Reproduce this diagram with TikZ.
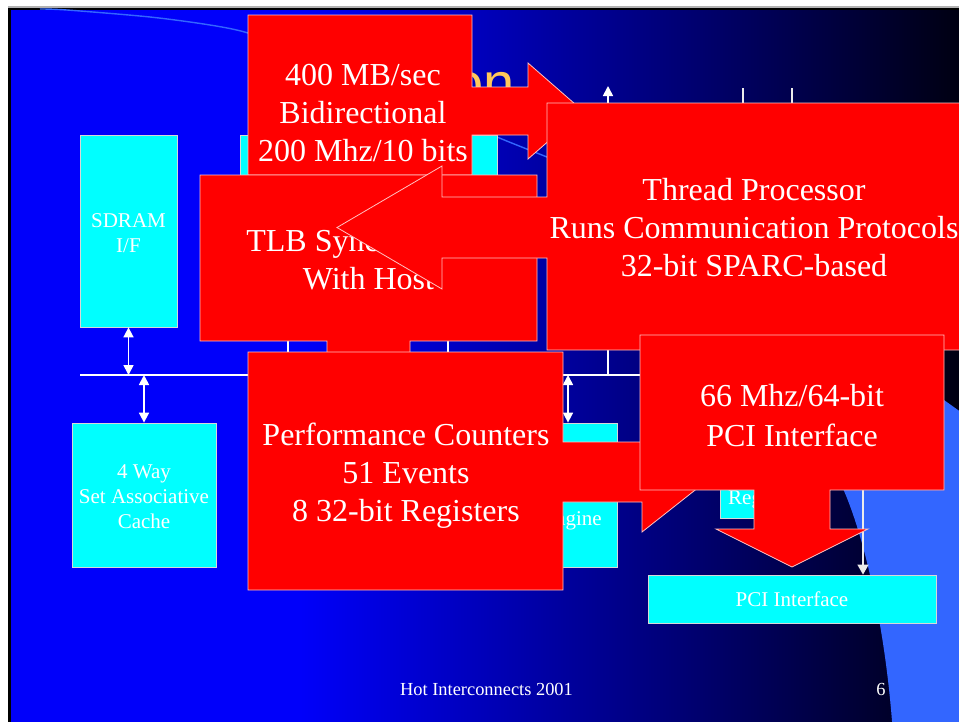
\documentclass[tikz,border=0pt]{standalone}
\usepackage{fontspec}
\setmainfont{Liberation Serif}
\newfontfamily\titlefont{Liberation Sans}
\usetikzlibrary{arrows.meta}

\definecolor{slideblue}{RGB}{0,0,250}
\definecolor{slidedark}{RGB}{0,0,16}
\definecolor{swoosh}{RGB}{51,102,255}
\definecolor{titleorange}{RGB}{255,200,90}
\definecolor{calloutred}{RGB}{255,0,0}
\definecolor{calloutedge}{RGB}{255,195,195}
\definecolor{blockcyan}{RGB}{0,255,255}
\definecolor{blockedge}{RGB}{215,215,215}
\definecolor{wirewhite}{RGB}{235,235,235}

\tikzset{
  block/.style={fill=blockcyan, draw=blockedge, line width=0.8pt},
  callout/.style={fill=calloutred, draw=calloutedge, line width=0.8pt},
  bigtext/.style={text=white, font=\fontsize{32}{38}\selectfont, align=center, inner sep=0pt},
  smalltext/.style={text=white, font=\fontsize{21}{25}\selectfont, align=center, inner sep=0pt},
  foottext/.style={text=white, font=\fontsize{18.4}{22}\selectfont, inner sep=0pt, anchor=base},
  buswire/.style={draw=white, line width=2pt},
  biarrow/.style={draw=white, line width=1.7pt,
    {Triangle[length=10pt,width=10pt]}-{Triangle[length=10pt,width=10pt]}},
  uparrow/.style={draw=white, line width=1.7pt, -{Triangle[length=10pt,width=10pt]}},
  thinwire/.style={draw=wirewhite, line width=1.3pt},
  thinarrow/.style={thinwire, -{Triangle[length=10pt,width=11pt]}},
}

\begin{document}
\begin{tikzpicture}[x=1pt, y=-1pt]
\useasboundingbox (0,0) rectangle (959,721);

% slide frame and background
\fill[white] (-5,-5) rectangle (965,727);
\fill[gray!60] (8,6) rectangle (965,8);
\fill[black] (8,8) rectangle (965,727);
\fill[slideblue] (11,10) rectangle (302,727);
\shade[left color=slideblue, right color=slidedark] (300,10) rectangle (965,727);

% light blue swoosh at the right and the thin arc at the top
\fill[swoosh] (965,415) -- (944,400) -- (900,382) -- (838,478)
  .. controls (862,525) and (884,620) .. (892,721) -- (893,727) -- (965,727) -- cycle;
\draw[swoosh, line width=1.4pt] plot[smooth] coordinates
  {(40,9) (67,10) (150,17) (210,25) (248,33) (300,52) (400,96) (497,137) (547,157) (580,170)};

% slide title (mostly hidden by the callouts)
\node[text=titleorange, font=\titlefont\fontsize{56}{60}\selectfont,
      inner sep=0pt, anchor=base east] (title) at (514.5,102.8) {on};

% ---- block diagram ----
\coordinate (busL) at (80,375);
\coordinate (busR) at (863,375);
\coordinate (netA) at (608,86);
\coordinate (netB) at (743,88);
\coordinate (netC) at (792,88);

\node[block, minimum width=97pt, minimum height=192pt] (sdram) at (128.5,231) {};
\node[smalltext] (sdramlabel) at (128.5,233) {SDRAM\\I/F};
\node[block, minimum width=257pt, minimum height=192pt] (midblk) at (368.5,231) {};
\node[block, minimum width=144pt, minimum height=144pt] (cache) at (144,495) {};
\node[smalltext] (cachelabel) at (144,497) {4 Way\\Set Associative\\Cache};
\node[block, minimum width=93pt, minimum height=144pt] (engine) at (570.5,495) {};
\node[block, minimum width=80pt, minimum height=95pt] (regblk) at (760,470.5) {};
\node[block, minimum width=288pt, minimum height=48pt, smalltext] (pcibox) at (792,599) {PCI Interface};
\node[smalltext, anchor=base] (enginelabel) at (572,525) {Engine};
\node[smalltext, anchor=base west] (reglabel) at (728,504) {Registers};

\draw[buswire] (busL) -- (busR);
\draw[biarrow] (sdram.south) -- (sdram.south |- busL);
\draw[biarrow] (cache.north) -- (cache.north |- busL);
\draw[biarrow] ([xshift=-2.5pt]engine.north) -- ([xshift=-2.5pt]engine.north |- busL);
\draw[biarrow] ([xshift=-80.5pt]midblk.south) -- ([xshift=-80.5pt]midblk.south |- busL);
\draw[biarrow] ([xshift=79.5pt]midblk.south) -- ([xshift=79.5pt]midblk.south |- busL);
\draw[uparrow] (netA |- busL) -- (netA);
\draw[thinwire] (netB) -- (netB |- regblk.north);
\draw[thinwire] (netC) -- (netC |- regblk.north);
\draw[thinarrow] (busR) -- (busR |- pcibox.north);

% footer
\node[foottext] (footer) at (486.5,695) {Hot Interconnects 2001};
\node[foottext] (pageno) at (881,695) {6};

% ---- callouts ----
\draw[callout] (248,15) -- (472,15) -- (472,87) -- (528,87) -- (528,63) -- (583,111)
  -- (528,159) -- (528,135) -- (472,135) -- (472,175) -- (248,175) -- cycle;
\node[bigtext] (bwtext) at (363,113) {400 MB/sec\\Bidirectional\\200 Mhz/10 bits};

\draw[callout] (200,175) -- (537,175) -- (537,341) -- (410,341) -- (410,382) -- (445,382)
  -- (368.5,445) -- (292,382) -- (327,382) -- (327,341) -- (200,341) -- cycle;
\node[bigtext] (tlbtext) at (368.5,260) {TLB Synchronized\\With Host};

\draw[callout] (547,103) -- (965,103) -- (965,350) -- (547,350) -- (547,258) -- (442,258)
  -- (442,289) -- (337,227.5) -- (442,166) -- (442,197) -- (547,197) -- cycle;
\node[bigtext] (thrtext) at (754,228) {Thread Processor\\Runs Communication Protocols\\32-bit SPARC-based};

\draw[callout] (248,352) -- (563,352) -- (563,442) -- (642,442) -- (642,412) -- (718,472)
  -- (642,532) -- (642,502) -- (563,502) -- (563,590) -- (248,590) -- cycle;
\node[bigtext] (perftext) at (406,476) {Performance Counters\\51 Events\\8 32-bit Registers};

\draw[callout] (640,335) -- (944,335) -- (944,490) -- (830,490) -- (830,529) -- (868,529)
  -- (792,567) -- (716,529) -- (754,529) -- (754,490) -- (640,490) -- cycle;
\node[bigtext, font=\fontsize{32}{40}\selectfont] (pcitext) at (792,416) {66 Mhz/64-bit\\PCI Interface};

\end{tikzpicture}
\end{document}
